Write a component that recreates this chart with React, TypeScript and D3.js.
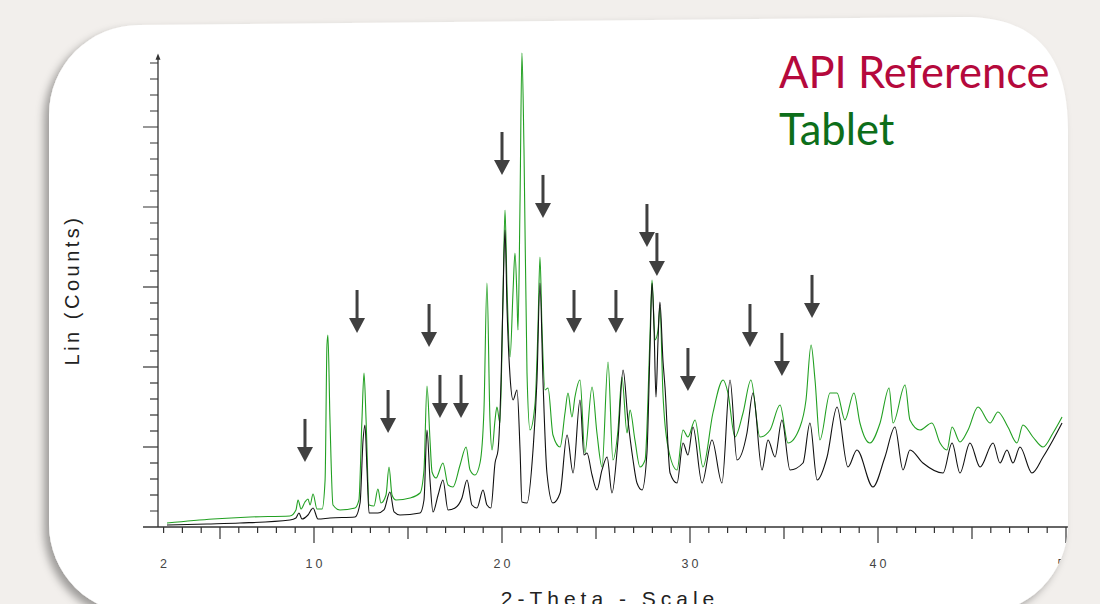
import * as d3 from 'd3';

// 2-theta positions (deg) and counts
const TABLET_THETA = [
  2.18, 4.63, 6.6, 8.72, 9.04, 9.15, 9.31, 9.52, 9.68, 9.79, 9.95, 10.16, 10.43, 10.59, 10.69, 10.74, 10.85, 11.01,
  11.38, 12.18, 12.39, 12.55, 12.66, 12.77, 12.93, 13.19, 13.4, 13.56, 13.83, 13.99, 14.15, 14.36, 15.11, 15.64,
  15.85, 16.01, 16.17, 16.28, 16.49, 16.86, 17.13, 17.39, 17.77, 18.09, 18.3, 18.56, 18.83, 19.04, 19.2, 19.36,
  19.47, 19.63, 19.73, 19.89, 20.05, 20.16, 20.27, 20.43, 20.59, 20.69, 20.8, 20.85, 20.96, 21.06, 21.17, 21.33,
  21.49, 21.76, 21.91, 22.02, 22.13, 22.29, 22.45, 22.71, 23.09, 23.35, 23.51, 23.72, 23.88, 24.15, 24.41, 24.79,
  25.05, 25.32, 25.64, 25.9, 26.17, 26.38, 26.65, 26.81, 27.07, 27.34, 27.61, 27.87, 27.98, 28.14, 28.3, 28.4,
  28.56, 28.83, 29.31, 29.63, 29.89, 30.27, 30.69, 31.22, 31.76, 32.02, 32.39, 32.82, 33.24, 33.72, 34.26, 34.79,
  35.21, 35.85, 36.17, 36.44, 36.65, 36.91, 37.45, 37.82, 38.24, 38.72, 39.04, 39.57, 40.11, 40.59, 40.8, 41.44,
  41.7, 42.23, 42.87, 43.3, 43.67, 43.94, 44.36, 44.79, 45.32, 45.96, 46.38, 46.91, 47.39, 47.71, 48.24, 48.78,
  49.31, 49.79,
];
const TABLET_COUNTS = [
  50, 100, 125, 138, 213, 338, 225, 313, 350, 275, 413, 225, 225, 588, 2275, 2400, 1338, 275,
  213, 238, 338, 1338, 1925, 1338, 275, 263, 475, 300, 400, 750, 400, 338, 363, 425,
  713, 1763, 1088, 688, 613, 800, 525, 500, 775, 1000, 713, 650, 800, 1463, 3050, 1338,
  963, 1338, 1500, 1300, 2838, 3963, 2963, 2125, 2963, 3425, 2838, 2463, 4088, 5925, 4713, 1925,
  1213, 1550, 2463, 3375, 2463, 1713, 1738, 1150, 1000, 1425, 1675, 1375, 1625, 1838, 925, 1750,
  1175, 750, 2063, 838, 1213, 1875, 1175, 1463, 1088, 750, 838, 2375, 3088, 2338, 2463, 2750,
  1675, 1000, 713, 1213, 1125, 1338, 750, 1425, 1838, 1675, 1125, 1425, 1838, 1125, 1213, 1525,
  1050, 1250, 1588, 2275, 1838, 1088, 1675, 1675, 1338, 1675, 1300, 1050, 1300, 1738, 1300, 1775,
  1338, 1213, 1300, 1050, 963, 1250, 1063, 1213, 1500, 1300, 1438, 1250, 1050, 1275, 1125, 1000,
  1175, 1375,
];

const API_THETA = [
  2.18, 4.31, 6.06, 8.72, 9.04, 9.2, 9.36, 9.68, 9.95, 10.21, 10.85, 12.18, 12.45, 12.61, 12.71, 12.82, 12.93,
  13.4, 13.72, 14.04, 14.26, 14.57, 15.64, 15.85, 16.01, 16.17, 16.33, 16.6, 16.86, 17.13, 17.5, 17.87, 18.14,
  18.4, 18.67, 18.99, 19.2, 19.41, 19.63, 19.79, 19.95, 20.05, 20.16, 20.27, 20.43, 20.59, 20.8, 20.96, 21.06,
  21.33, 21.65, 21.86, 22.02, 22.18, 22.39, 22.71, 23.09, 23.46, 23.78, 24.15, 24.36, 24.52, 24.79, 25.05, 25.32,
  25.59, 25.85, 26.17, 26.44, 26.7, 26.97, 27.18, 27.45, 27.71, 27.87, 27.98, 28.09, 28.19, 28.3, 28.4, 28.56,
  28.67, 28.94, 29.31, 29.63, 29.89, 30.16, 30.64, 31.17, 31.7, 32.13, 32.5, 33.03, 33.35, 33.83, 34.15, 34.52,
  34.89, 35.32, 36.01, 36.38, 36.76, 37.29, 37.82, 38.4, 38.88, 39.73, 40.37, 40.9, 41.33, 41.7, 42.39, 43.46,
  43.94, 44.36, 44.89, 45.43, 46.12, 46.49, 46.86, 47.18, 47.55, 48.19, 48.78, 49.31, 49.79,
];
const API_COUNTS = [
  25, 38, 50, 88, 113, 175, 100, 150, 238, 100, 113, 125, 300, 1088, 1275, 713, 175,
  175, 213, 438, 188, 150, 175, 338, 1213, 588, 188, 400, 588, 213, 238, 363, 588,
  275, 238, 463, 275, 238, 800, 963, 1838, 2838, 3713, 2713, 1875, 1588, 1713, 963, 313,
  300, 963, 1838, 3050, 1838, 675, 300, 425, 1150, 675, 1588, 900, 925, 650, 463, 713,
  875, 425, 1088, 1963, 1338, 838, 550, 463, 925, 2213, 3050, 2463, 1625, 2338, 2813, 2088,
  1750, 675, 550, 1050, 900, 1250, 550, 1088, 550, 1838, 838, 1175, 1675, 713, 1088, 875,
  1338, 713, 800, 1300, 588, 875, 1500, 750, 963, 500, 875, 1250, 713, 963, 800, 675,
  1050, 675, 1050, 750, 1050, 800, 963, 800, 1000, 675, 875, 1088, 1300,
];

// peak markers: 2-theta and the count at the arrow tip
const ARROW_THETA = [9.52, 12.29, 13.94, 16.12, 16.7, 17.82, 20.0, 22.18, 23.83, 26.06, 27.71, 28.24, 29.89, 33.19, 34.89, 36.49];
const ARROW_TIP = [813, 2425, 1175, 2250, 1363, 1363, 4400, 3863, 2425, 2425, 3500, 3138, 1700, 2250, 1888, 2613];

const X_LABELS = [2, 10, 20, 30, 40, 50];

const CARD =
  'M49,115 A90,90 0 0 1 139,25 L960,17 C1040,15 1068,60 1068,130 L1068,524 ' +
  'A90,90 0 0 1 978,614 L139,614 A90,90 0 0 1 49,524 Z';

export default function App() {
  const x = d3.scaleLinear().domain([10, 50]).range([314, 1066]);
  const y = d3.scaleLinear().domain([0, 5000]).range([527, 127]);

  const line = d3
    .line<[number, number]>()
    .x((d) => x(d[0]))
    .y((d) => y(d[1]))
    .curve(d3.curveMonotoneX);

  const tablet = line(TABLET_THETA.map((t, i) => [t, TABLET_COUNTS[i]]));
  const api = line(API_THETA.map((t, i) => [t, API_COUNTS[i]]));

  const xTicks = d3.range(2, 51, 1);
  const yTicks = d3.range(200, 5801, 200);
  const axisColor = '#333';

  return (
    <svg width={1100} height={604} style={{ position: 'fixed', left: 0, top: 0, background: '#f2efec' }}>
      <defs>
        <filter id="shadow" x="-10%" y="-10%" width="120%" height="120%">
          <feDropShadow dx={-5} dy={5} stdDeviation={4} floodColor="#000" floodOpacity={0.35} />
        </filter>
        <clipPath id="card">
          <path d={CARD} />
        </clipPath>
      </defs>

      <path d={CARD} fill="#fff" filter="url(#shadow)" />

      <g clipPath="url(#card)">
        {/* y axis */}
        <line x1={158} x2={158} y1={527} y2={y(5870)} stroke={axisColor} strokeWidth={1.3} />
        <path d={`M155.5,${y(5840)} L158,${y(5920)} L160.5,${y(5840)} Z`} fill={axisColor} />
        {yTicks.map((v) => (
          <line
            key={v}
            x1={v % 1000 === 0 ? 143 : 150}
            x2={158}
            y1={y(v)}
            y2={y(v)}
            stroke={axisColor}
            strokeWidth={1.2}
          />
        ))}

        {/* x axis */}
        <line x1={143} x2={1068} y1={527} y2={527} stroke={axisColor} strokeWidth={1.3} />
        {xTicks.map((t) => (
          <line
            key={t}
            x1={x(t)}
            x2={x(t)}
            y1={527}
            y2={t % 10 === 0 ? 543 : t % 5 === 0 ? 539 : 533}
            stroke={axisColor}
            strokeWidth={1.2}
          />
        ))}
        {X_LABELS.map((t) => (
          <text
            key={t}
            x={x(t) + 1.5}
            y={568}
            textAnchor="middle"
            fontFamily="'Liberation Sans', Arial, sans-serif"
            fontSize={12.5}
            letterSpacing={3}
            fill="#444"
          >
            {t}
          </text>
        ))}

        <path d={tablet ?? ''} fill="none" stroke="#22a022" strokeWidth={1.1} strokeLinejoin="round" />
        <path d={api ?? ''} fill="none" stroke="#111" strokeWidth={1.1} strokeLinejoin="round" />

        {ARROW_THETA.map((t, i) => {
          const cx = x(t);
          const tip = y(ARROW_TIP[i]);
          return (
            <g key={i} fill="#404040">
              <rect x={cx - 1.5} y={tip - 43} width={3} height={30} />
              <path d={`M${cx - 8},${tip - 15} L${cx + 8},${tip - 15} L${cx},${tip} Z`} />
            </g>
          );
        })}

        <text
          transform="translate(79,290) rotate(-90)"
          textAnchor="middle"
          fontFamily="'Liberation Sans', Arial, sans-serif"
          fontSize={20}
          letterSpacing={3.5}
          fill="#222"
        >
          Lin (Counts)
        </text>
        <text
          x={610}
          y={606}
          textAnchor="middle"
          fontFamily="'Liberation Sans', Arial, sans-serif"
          fontSize={21}
          letterSpacing={5}
          fill="#222"
        >
          2-Theta - Scale
        </text>

        <text x={779} y={88} fontFamily="Lato, 'Open Sans', sans-serif" fontSize={43.5} fill="#b5093c">
          API Reference
        </text>
        <text x={779} y={145} fontFamily="Lato, 'Open Sans', sans-serif" fontSize={43.5} fill="#0d6e1a">
          Tablet
        </text>
      </g>
    </svg>
  );
}
